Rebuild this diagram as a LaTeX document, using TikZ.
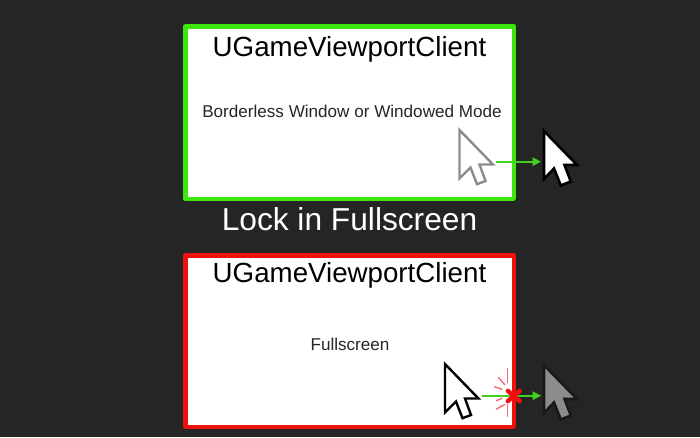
\documentclass[tikz,border=0pt]{standalone}
\usepackage{fontspec}
\setmainfont{Liberation Sans}
\usetikzlibrary{arrows.meta}
\definecolor{bgc}{HTML}{252525}
\definecolor{boxgreen}{HTML}{3CE80C}
\definecolor{boxred}{HTML}{F00F0F}
\definecolor{arrowgreen}{HTML}{45D01C}
\definecolor{raypink}{HTML}{FA6A72}
\tikzset{
  x=1pt,y=-1pt,
  frame/.style={fill=white,line width=4.4pt,line join=round},
  title/.style={font=\fontsize{27.7}{32}\selectfont,text=black,inner sep=0pt,anchor=base},
  sub/.style={font=\fontsize{17.1}{20}\selectfont,text=black!85,inner sep=0pt,anchor=base},
  link/.style={arrowgreen,line width=1.6pt,-{Triangle[length=8.5pt,width=8.5pt]}},
  ray/.style={raypink,line width=1.4pt},
  curs/.pic={
    \path[pic actions,line join=miter]
      (0,0) -- (33.5,34.5) -- (20,34.5) -- (26,51) -- (17.5,54.2) -- (11,37.5) -- (0,48.5) -- cycle;
  },
  cursdark/.pic={
    \path[pic actions,line join=miter]
      (0,0) -- (33,34) -- (20.5,34) -- (26.8,50.5) -- (16.8,54.5) -- (10,37.5) -- (0,48) -- cycle;
  }
}
\begin{document}
\begin{tikzpicture}
\useasboundingbox[fill=bgc] (0,0) rectangle (700,437);
% top panel
\draw[frame,draw=boxgreen] (185.5,26.5) rectangle (513.8,198.7);
\node[title] (t1) at (349.5,56.5) {UGameViewportClient};
\node[sub] (s1) at (352,117) {Borderless Window or Windowed Mode};
\pic[draw=black!45,fill=white,line width=2.4pt] at (459.5,130) {curs};
\pic[draw=black,fill=white,line width=2.6pt] at (544,131) {cursdark};
\coordinate (a1s) at (496,161.7);
\coordinate (a1e) at (541,161.7);
\draw[link] (a1s) -- (a1e);
% caption
\node[font=\fontsize{31.7}{34}\selectfont,text=white,inner sep=0pt,anchor=base] (cap) at (349.5,230.5) {Lock in Fullscreen};
% bottom panel
\draw[frame,draw=boxred] (185.5,255.5) rectangle (513.8,426.8);
\node[title] (t2) at (349.5,282.5) {UGameViewportClient};
\node[sub] (s2) at (350,350) {Fullscreen};
\pic[draw=black,fill=white,line width=2.4pt] at (445,364) {curs};
\pic[draw=black!90,fill=black!45,line width=2.6pt] at (544,365) {cursdark};
\coordinate (a2s) at (481.7,395.7);
\coordinate (a2e) at (541,395.7);
\draw[link] (a2s) -- (a2e);
% impact rays
\draw[ray] (507.7,367.7) -- (507.7,383);
\draw[ray] (498.3,377.3) -- (505,385);
\draw[ray] (494.3,386.7) -- (502.3,389.3);
\draw[ray] (496,400.7) -- (502.3,398.3);
\draw[ray] (496,409.3) -- (505,404.3);
\draw[ray] (507.7,404.3) -- (507.7,416.7);
% red cross
\draw[boxred,line width=4.4pt,line cap=round] (507.8,390.8) -- (519.8,401.2) (519.8,390.8) -- (507.8,401.2);
\end{tikzpicture}
\end{document}
